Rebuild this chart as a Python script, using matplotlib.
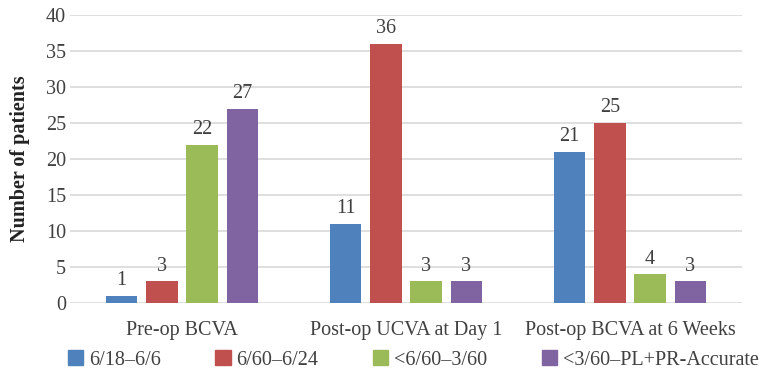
import numpy as np
import matplotlib.pyplot as plt
from matplotlib.patches import Patch

plt.rcParams['font.family'] = ['Liberation Serif', 'DejaVu Serif']

stages = ['Pre-op BCVA', 'Post-op UCVA at Day 1', 'Post-op BCVA at 6 Weeks']
groups = ['6/18\u20136/6', '6/60\u20136/24', '<6/60\u20133/60', '<3/60\u2013PL+PR-Accurate']
counts = [
    [1, 11, 21],
    [3, 36, 25],
    [22, 3, 4],
    [27, 3, 3],
]
colors = ['#4F81BD', '#C0504D', '#9BBB59', '#8064A2']
text_col = '#404040'
fs = 14.5

fig = plt.figure(figsize=(7.61, 3.71), dpi=100)
ax = fig.add_axes([0.092, 0.183, 0.883, 0.777])

x = np.arange(len(stages))
step = 0.18
width = 0.14
for i, (vals, c) in enumerate(zip(counts, colors)):
    pos = x + (i - 1.5) * step
    ax.bar(pos, vals, width, color=c, zorder=3)
    for p, v in zip(pos, vals):
        ax.annotate(str(v), (p, v), xytext=(0, 4), textcoords='offset points',
                    ha='center', va='bottom', fontsize=fs, color=text_col)

ax.set_xlim(-0.5, 2.5)
ax.set_ylim(0, 40)
ax.set_yticks(range(0, 41, 5))
ax.set_xticks(x)
ax.set_xticklabels(stages)
ax.tick_params(length=0, labelsize=fs, colors=text_col)
ax.tick_params(axis='y', pad=3)
ax.tick_params(axis='x', pad=13)
ax.grid(axis='y', color='#d9d9d9', linewidth=1.2, zorder=0)
for s in ax.spines.values():
    s.set_visible(False)
ax.set_ylabel('Number of patients', fontsize=fs, fontweight='bold',
              color='#222222', labelpad=11)

handles = [Patch(color=c) for c in colors]
fig.legend(handles, groups, loc='center left', bbox_to_anchor=(68 / 761, 0.03),
           ncol=4, frameon=False, fontsize=fs, handlelength=0.75,
           handleheight=0.75, handletextpad=0.3, columnspacing=2.7,
           labelcolor=text_col, borderpad=0, borderaxespad=0)

fig.savefig('out.png', dpi=100)
